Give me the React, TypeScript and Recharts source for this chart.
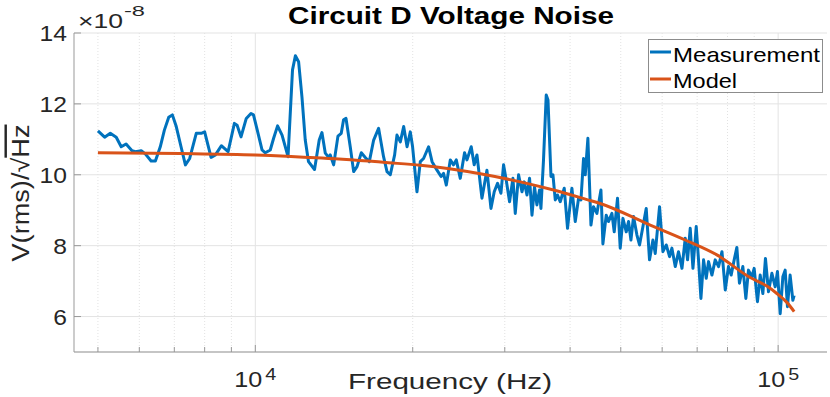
import React from "react";
import { LineChart, Line, XAxis, YAxis, CartesianGrid, ReferenceLine, Legend } from "recharts";

// Measurement: frequency (Hz) and noise (x1e-8 V/sqrt(Hz))
const measFreq = [
  5000, 5150, 5280, 5420, 5540, 5660, 5810, 5900, 6050, 6160, 6320, 6440, 6580, 6700, 6830, 6940,
  7060, 7210, 7350, 7490, 7710, 7880, 8000, 8230, 8390, 8610, 8870, 9120, 9230, 9390, 9610, 9810,
  9920, 10070, 10300, 10450, 10680, 10840, 11030, 11250, 11550, 11780, 11930, 12100, 12280, 12460,
  12640, 12980, 13250, 13410, 13610, 13810, 13910, 14120, 14390, 14600, 14750, 14910, 15190, 15420,
  15650, 15950, 16230, 16520, 16840, 17210, 17590, 17860, 18120, 18470, 18660, 18940, 19220, 19510,
  19790, 19990, 20380, 20680, 20980, 21450, 21780, 22260, 22660, 22910, 23190, 23600, 23940, 24230,
  24660, 25130, 25400, 25880, 26220, 26540, 27130, 27730, 28230, 28640, 29060, 29500, 29840, 30190,
  30640, 31100, 31420, 31880, 32360, 32690, 33080, 33460, 33820, 34200, 34560, 34960, 35180, 35580,
  36010, 36290, 36770, 37090, 37470, 37840, 38300, 38980, 39550, 40320, 40920, 41520, 41960, 42440,
  42760, 43260, 43850, 44340, 45010, 45820, 46220, 46900, 47370, 48090, 48580, 49290, 49880, 50480,
  51220, 51740, 52290, 52890, 53690, 54310, 55130, 55930, 56750, 57610, 58200, 59310, 60200, 61090,
  61990, 62630, 63560, 64490, 65470, 66420, 67100, 67890, 68710, 69710, 70420, 71170, 72000, 72850,
  73590, 74700, 75790, 76920, 78080, 79220, 80350, 81300, 82390, 83370, 84330, 85600, 86740, 87740,
  89060, 89970, 91290, 92390, 93480, 94560, 95830, 97280, 98700, 99700, 100900, 102090, 103130,
  104180, 105410, 106680, 107300,
];
const measVal = [
  11.24, 11.06, 11.17, 11.06, 10.79, 10.87, 10.68, 10.65, 10.68, 10.59, 10.39, 10.39, 10.79, 11.26, 11.62, 11.69,
  11.36, 10.79, 10.28, 10.46, 11.17, 11.17, 11.21, 10.49, 10.56, 10.82, 10.65, 11.45, 11.40, 11.07, 11.59, 11.73,
  11.69, 11.30, 10.70, 10.62, 10.70, 11.03, 11.38, 11.12, 10.51, 12.96, 13.36, 13.19, 12.20, 10.98,
  10.37, 10.15, 10.98, 11.19, 10.61, 10.49, 10.56, 10.28, 11.09, 11.17, 11.55, 11.59, 10.79, 10.09,
  10.23, 10.62, 10.49, 10.37, 10.98, 11.31, 10.51, 10.09, 10.0, 10.56, 11.12, 10.93, 11.36, 10.79,
  11.21, 10.79, 9.52, 10.37, 10.46, 10.79, 10.37, 10.13, 9.95, 10.04, 9.71, 10.42, 10.28, 10.42,
  9.90, 10.62, 10.42, 10.79, 10.28, 10.56, 9.34, 10.13, 9.05, 9.52, 9.76, 9.48, 10.28, 9.85,
  9.24, 9.90, 8.91, 10.0, 9.52, 9.80, 9.43, 9.90, 8.86, 9.66, 9.15, 9.57, 9.05, 10.42,
  12.25, 12.11, 9.95, 10.0, 9.29, 9.43, 9.24, 9.62, 8.49, 9.62, 8.68, 9.34, 9.29, 10.46,
  10.0, 11.03, 8.58, 9.10, 8.91, 9.57, 8.05, 8.86, 8.68, 8.91, 8.39, 9.34, 7.93, 8.77,
  8.39, 8.68, 8.16, 8.82, 8.30, 8.02, 8.54, 9.05, 7.60, 8.16, 7.78, 9.10, 7.83, 8.02,
  7.69, 7.93, 7.41, 7.83, 7.36, 8.21, 7.60, 8.49, 7.36, 8.54, 7.60, 6.51, 7.60, 7.08,
  7.55, 7.17, 7.60, 7.41, 7.83, 6.75, 7.41, 7.17, 7.60, 7.95, 6.94, 7.41, 6.51, 7.31,
  7.12, 7.36, 6.42, 7.17, 6.65, 7.64, 6.70, 7.22, 6.84, 7.27, 6.08, 7.12, 7.31,
  6.28, 7.17, 6.46, 6.60,
];

// Model curve
const modelFreq = [
  5000, 7190, 10000, 13410, 17980, 20680, 26930, 32120, 37190, 43080, 45670, 56920, 66420, 76340,
  88400, 95150, 99430, 103900, 107300,
];
const modelVal = [
  10.62, 10.6, 10.56, 10.47, 10.34, 10.27, 10.03, 9.8, 9.57, 9.3, 9.19, 8.58, 8.16, 7.74,
  7.1, 6.86, 6.65, 6.4, 6.14,
];

const majorX = [10000, 100000];
const minorX = [5000, 6000, 7000, 8000, 9000, 20000, 30000, 40000, 50000, 60000, 70000, 80000, 90000];
const xTicks = [...minorX, ...majorX].sort((a, b) => a - b);
const yTicks = [6, 8, 10, 12, 14];

const measurement = measFreq.map((f, i) => ({ f, v: measVal[i] }));
const model = modelFreq.map((f, i) => ({ f, v: modelVal[i] }));

const FONT = '"Liberation Sans", Arial, Helvetica, sans-serif';
const AXIS = "#999999";
const TXT = "#262626";
const BLUE = "#0072BD";
const ORANGE = "#D95319";

const isMajor = (v: number) => majorX.includes(v);

const BottomTick = (props: any) => {
  const { x, y, payload } = props;
  const major = isMajor(payload.value);
  return (
    <g>
      <line x1={x} x2={x} y1={y} y2={y - (major ? 7 : 5)} stroke={AXIS} />
      {major && (
        <g fontFamily={FONT} fill={TXT}>
          <text x={x - 21} y={y + 35} fontSize={22} textLength={28} lengthAdjust="spacingAndGlyphs">10</text>
          <text x={x + 10} y={y + 28} fontSize={17} textLength={11} lengthAdjust="spacingAndGlyphs">
            {payload.value === 10000 ? "4" : "5"}
          </text>
        </g>
      )}
    </g>
  );
};

const TopTick = (props: any) => {
  const { x, y, payload } = props;
  const major = isMajor(payload.value);
  return <line x1={x} x2={x} y1={y} y2={y + (major ? 7 : 5)} stroke={AXIS} />;
};

const LeftTick = (props: any) => {
  const { x, y, payload } = props;
  const label = String(payload.value);
  return (
    <g>
      <line x1={x} x2={x + 7} y1={y} y2={y} stroke={AXIS} />
      <text
        x={x - 7}
        y={y + 8}
        textAnchor="end"
        fontSize={22}
        fontFamily={FONT}
        fill={TXT}
        textLength={label.length * 13.7}
        lengthAdjust="spacingAndGlyphs"
      >
        {label}
      </text>
    </g>
  );
};

const RightTick = (props: any) => {
  const { x, y } = props;
  return <line x1={x} x2={x - 7} y1={y} y2={y} stroke={AXIS} />;
};

const LegendBox = (props: any) => {
  const items = props.payload || [];
  const widths: Record<string, number> = { Measurement: 147, Model: 64 };
  return (
    <svg width={175} height={54} style={{ display: "block" }}>
      <rect x={0.5} y={0.5} width={174} height={53} fill="#ffffff" stroke="#8c8c8c" />
      {items.map((it: any, i: number) => (
        <g key={it.value}>
          <line x1={2} x2={23} y1={13 + i * 27} y2={13 + i * 27} stroke={it.color} strokeWidth={3} />
          <text
            x={25}
            y={23 + i * 26}
            fontSize={21}
            fontFamily={FONT}
            fill="#000"
            textLength={widths[it.value] || 100}
            lengthAdjust="spacingAndGlyphs"
          >
            {it.value}
          </text>
        </g>
      ))}
    </svg>
  );
};

export default function App() {
  return (
    <div style={{ position: "absolute", left: 0, top: 0, width: 830, height: 397, background: "#fff" }}>
      <LineChart width={830} height={397} margin={{ top: 33, right: 3, bottom: 5, left: 14 }}>
        <CartesianGrid vertical={false} stroke="#e3e3e3" />
        {minorX.map((v) => (
          <ReferenceLine key={v} x={v} stroke="#e2e2e2" strokeDasharray="1 2" />
        ))}
        {majorX.map((v) => (
          <ReferenceLine key={v} x={v} stroke="#e3e3e3" />
        ))}
        <XAxis
          dataKey="f"
          type="number"
          scale="log"
          domain={[4500, 124000]}
          allowDataOverflow
          ticks={xTicks}
          interval={0}
          height={40}
          tickSize={0}
          tickMargin={0}
          stroke={AXIS}
          tick={<BottomTick />}
        />
        <XAxis
          xAxisId="top"
          orientation="top"
          dataKey="f"
          type="number"
          scale="log"
          domain={[4500, 124000]}
          allowDataOverflow
          ticks={xTicks}
          interval={0}
          height={0}
          tickSize={0}
          tickMargin={0}
          stroke={AXIS}
          tick={<TopTick />}
        />
        <YAxis
          type="number"
          domain={[5, 14]}
          allowDataOverflow
          ticks={yTicks}
          interval={0}
          width={60}
          tickSize={0}
          tickMargin={0}
          stroke={AXIS}
          tick={<LeftTick />}
        />
        <YAxis
          yAxisId="right"
          orientation="right"
          type="number"
          domain={[5, 14]}
          allowDataOverflow
          ticks={yTicks}
          interval={0}
          width={0}
          tickSize={0}
          tickMargin={0}
          stroke={AXIS}
          tick={<RightTick />}
        />
        <Legend
          layout="vertical"
          align="center"
          verticalAlign="middle"
          wrapperStyle={{ left: 648, top: 39, width: 175, height: 54 }}
          content={<LegendBox />}
        />
        <Line
          name="Measurement"
          data={measurement}
          dataKey="v"
          type="linear"
          stroke={BLUE}
          strokeWidth={3}
          strokeLinejoin="round"
          dot={false}
          activeDot={false}
          isAnimationActive={false}
        />
        <Line
          name="Model"
          data={model}
          dataKey="v"
          type="monotone"
          stroke={ORANGE}
          strokeWidth={3}
          dot={false}
          activeDot={false}
          isAnimationActive={false}
        />
      </LineChart>
      <svg
        width={830}
        height={397}
        style={{ position: "absolute", left: 0, top: 0, pointerEvents: "none" }}
        fontFamily={FONT}
      >
        <text x={288} y={24} fontSize={23} fontWeight="bold" fill="#000" textLength={326} lengthAdjust="spacingAndGlyphs">
          Circuit D Voltage Noise
        </text>
        <text x={78} y={28} fontSize={20} fill={TXT} textLength={45} lengthAdjust="spacingAndGlyphs">×10</text>
        <text x={124} y={16} fontSize={14} fill={TXT} textLength={21} lengthAdjust="spacingAndGlyphs">-8</text>
        <text x={348} y={389} fontSize={22} fill={TXT} textLength={204} lengthAdjust="spacingAndGlyphs">
          Frequency (Hz)
        </text>
        <g transform="translate(29,193) scale(1.28,1) rotate(-90)">
          <text x={0} y={0} textAnchor="middle" fontSize={19} fill={TXT} textLength={137} lengthAdjust="spacingAndGlyphs">
            V(rms)/√<tspan style={{ textDecoration: "overline" }}>Hz</tspan>
          </text>
        </g>
      </svg>
    </div>
  );
}
